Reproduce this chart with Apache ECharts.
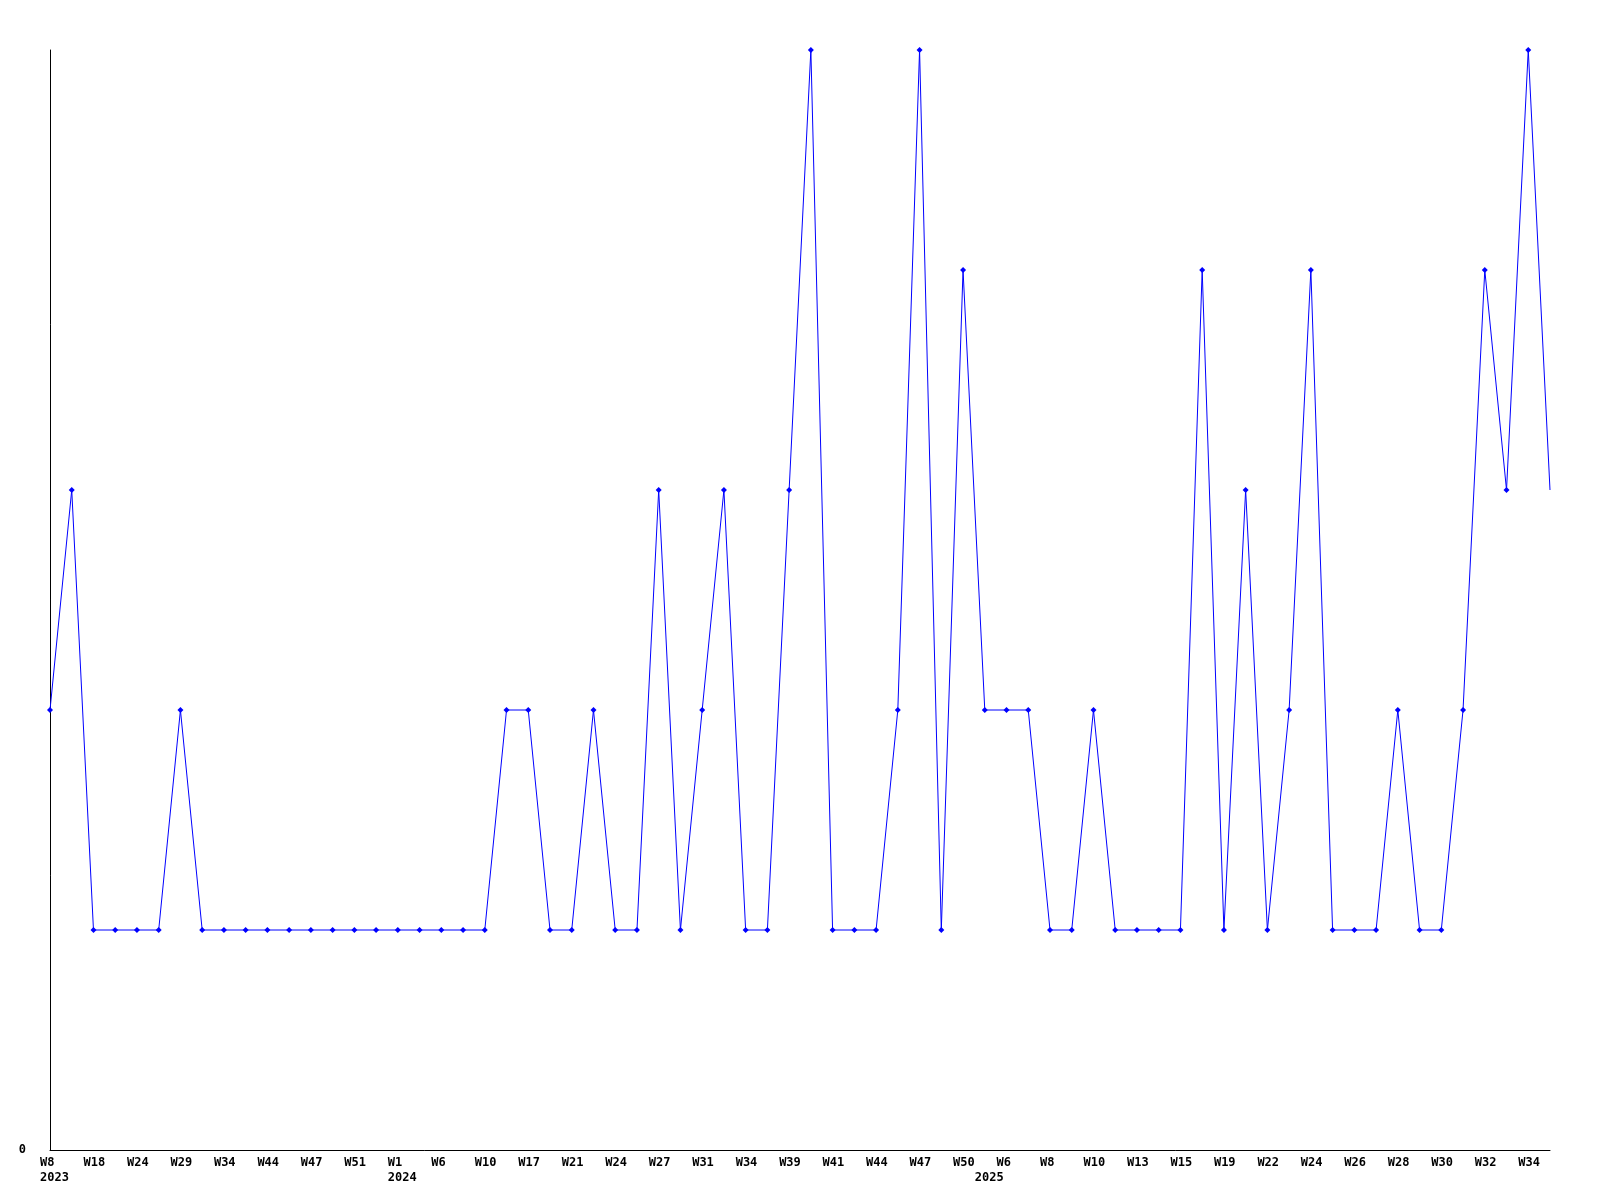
<!DOCTYPE html>
<html>
<head>
<meta charset="utf-8">
<script src="https://cdn.jsdelivr.net/npm/echarts@6/dist/echarts.min.js"></script>
<style>
html,body{margin:0;padding:0;background:#fff;}
#chart{width:1600px;height:1200px;}
</style>
</head>
<body>
<div id="chart"></div>
<script>
const weeks = ["W8","W12","W18","W20","W24","W26","W29","W31","W34","W38",
  "W44","W45","W47","W49","W51","W52","W1","W3","W6","W8",
  "W10","W15","W17","W19","W21","W23","W24","W25","W27","W30",
  "W31","W33","W34","W37","W39","W40","W41","W43","W44","W45",
  "W47","W49","W50","W2","W6","W7","W8","W9","W10","W11",
  "W13","W14","W15","W17","W19","W20","W22","W23","W24","W25",
  "W26","W27","W28","W29","W30","W31","W32","W33","W34","W35"];
const years = [2023,2023,2023,2023,2023,2023,2023,2023,2023,2023,
  2023,2023,2023,2023,2023,2023,2024,2024,2024,2024,
  2024,2024,2024,2024,2024,2024,2024,2024,2024,2024,
  2024,2024,2024,2024,2024,2024,2024,2024,2024,2024,
  2024,2024,2024,2025,2025,2025,2025,2025,2025,2025,
  2025,2025,2025,2025,2025,2025,2025,2025,2025,2025,
  2025,2025,2025,2025,2025,2025,2025,2025,2025,2025];
const counts = [2,3,1,1,1,1,2,1,1,1,
  1,1,1,1,1,1,1,1,1,1,
  1,2,2,1,1,2,1,1,3,1,
  2,3,1,1,3,5,1,1,1,2,
  5,1,4,2,2,2,1,1,2,1,
  1,1,1,4,1,3,1,2,4,1,
  1,1,2,1,1,2,4,3,5,3];

const chart = echarts.init(document.getElementById('chart'), null, {renderer:'canvas'});
const font = '"DejaVu Sans Mono", monospace';
const seriesData = counts.map((v, i) => i === counts.length - 1 ? {value: v, symbol: 'none'} : v);

chart.setOption({
  animation: false,
  backgroundColor: '#ffffff',
  grid: {left: 50, right: 50, top: 50, bottom: 50, containLabel: false},
  xAxis: {
    type: 'category',
    data: weeks,
    boundaryGap: false,
    axisLine: {show: true, lineStyle: {color: '#000', width: 1}},
    axisTick: {show: false},
    splitLine: {show: false},
    axisLabel: {
      interval: 0,
      margin: 5,
      color: '#000',
      fontFamily: font,
      fontWeight: 'bold',
      fontSize: 12,
      lineHeight: 15,
      align: 'left',
      padding: [0, 0, 0, -10],
      formatter: function (value, index) {
        const week = index % 2 === 0 ? value : '';
        const newYear = index === 0 || years[index] !== years[index - 1];
        if (!week && !newYear) return '';
        return week + (newYear ? '\n' + years[index] : '');
      }
    }
  },
  yAxis: {
    type: 'value',
    min: 0,
    max: 5,
    interval: 5,
    axisLine: {show: true, lineStyle: {color: '#000', width: 1}},
    axisTick: {show: false},
    splitLine: {show: false},
    axisLabel: {
      margin: 24,
      color: '#000',
      fontFamily: font,
      fontWeight: 'bold',
      fontSize: 12,
      formatter: function (v) { return v === 0 ? '0' : ''; }
    }
  },
  series: [{
    type: 'line',
    data: seriesData,
    symbol: 'diamond',
    symbolSize: 6,
    showAllSymbol: true,
    lineStyle: {color: '#0000ff', width: 1},
    itemStyle: {color: '#0000ff'},
    emphasis: {disabled: true}
  }]
});
</script>
</body>
</html>
